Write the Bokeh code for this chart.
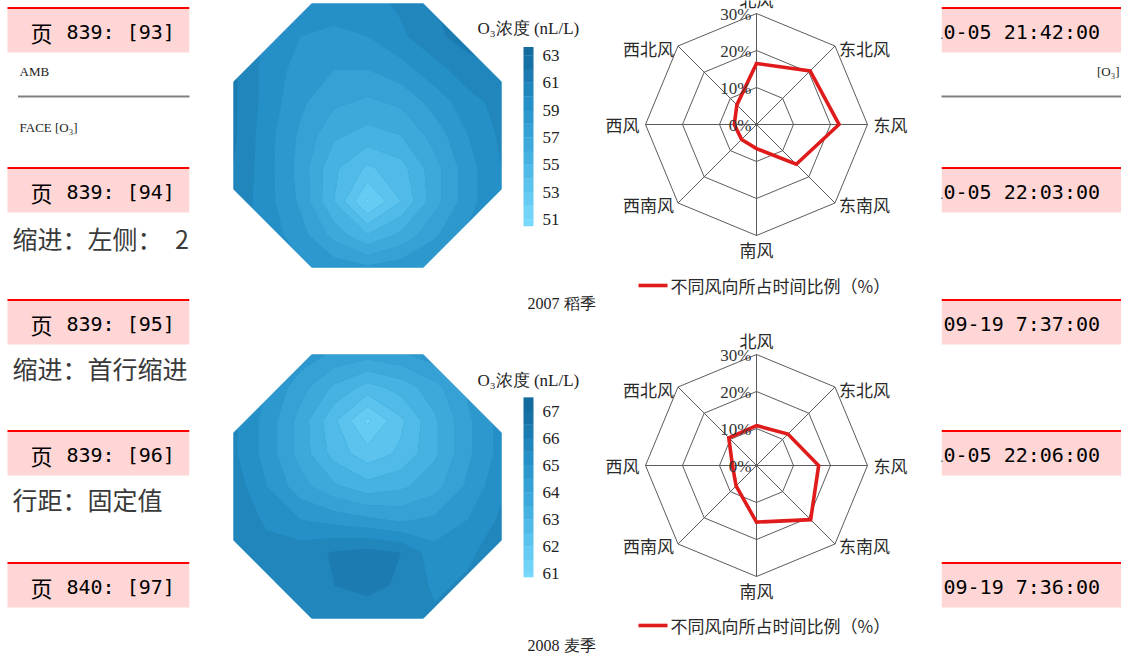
import numpy as np
from bokeh.plotting import figure
from bokeh.models import Range1d
from bokeh.core.properties import value
from bokeh.embed import file_html
from bokeh.resources import INLINE

# ---------------- data ----------------
header_ids = ["839:  [93]", "839:  [94]", "839:  [95]", "839:  [96]", "840:  [97]"]
header_times = ["2009-10-05 21:42:00", "2009-10-05 22:03:00", "2009-09-19 7:37:00",
                "2009-10-05 22:06:00", "2009-09-19 7:36:00"]
body_notes = ["缩进：左侧：　2 字符", "缩进：首行缩进：　2 字符", "行距：固定值"]
note_small = ["AMB", "FACE [O₃]"]
note_small_right = "[O₃]"

directions = ["北风", "东北风", "东风", "东南风", "南风", "西南风", "西风", "西北风"]
wind_share_2007 = [16.5, 20.5, 22.3, 15.2, 6.5, 5.7, 6.0, 7.5]
wind_share_2008 = [10.8, 12.0, 16.8, 20.7, 15.3, 7.8, 6.5, 10.6]
radar_ticks = [0, 10, 20, 30]
radar_tick_labels = ["0%", "10%", "20%", "30%"]
legend_label = "不同风向所占时间比例（%）"
captions = ["2007 稻季", "2008 麦季"]
cbar_title = "O₃浓度 (nL/L)"

# O3 concentration fields (rows top->bottom, cols left->right), nL/L
o3_2007 = [
    [60.8, 60.0, 59.6, 59.4, 59.6, 60.2, 61.0, 61.6, 62.0],
    [61.0, 59.8, 59.0, 58.8, 59.0, 59.8, 60.8, 61.4, 61.8],
    [61.2, 59.6, 58.6, 58.0, 58.0, 58.6, 59.6, 60.6, 61.0],
    [61.2, 59.6, 58.2, 57.2, 56.8, 57.2, 58.4, 59.6, 60.4],
    [61.2, 59.4, 57.8, 56.2, 55.6, 56.0, 57.4, 59.0, 60.2],
    [61.0, 59.4, 57.6, 55.2, 53.8, 54.6, 56.6, 58.6, 60.0],
    [60.8, 59.4, 57.8, 55.0, 51.8, 54.0, 56.6, 58.6, 60.0],
    [60.6, 59.6, 58.4, 56.6, 55.0, 56.2, 57.8, 59.2, 60.2],
    [60.4, 59.8, 59.2, 58.6, 58.2, 58.6, 59.2, 59.8, 60.4],
]
o3_2008 = [
    [65.6, 65.2, 64.8, 64.4, 64.2, 64.4, 64.8, 65.2, 65.6],
    [65.6, 65.0, 64.2, 63.4, 62.8, 63.2, 63.8, 64.6, 65.2],
    [65.6, 64.8, 63.8, 62.6, 61.4, 62.4, 63.4, 64.4, 65.2],
    [65.6, 64.8, 63.8, 62.8, 62.2, 62.6, 63.4, 64.4, 65.2],
    [65.8, 65.0, 64.2, 63.6, 63.2, 63.4, 63.8, 64.6, 65.4],
    [65.9, 65.4, 65.0, 64.8, 64.6, 64.4, 64.6, 65.0, 65.6],
    [65.9, 65.7, 65.8, 66.05, 66.2, 66.0, 65.2, 65.4, 65.8],
    [65.9, 65.7, 65.8, 66.0, 66.1, 65.95, 65.4, 65.6, 65.8],
    [65.8, 65.7, 65.7, 65.8, 65.8, 65.7, 65.6, 65.6, 65.8],
]
cbar_ticks_2007 = [51, 53, 55, 57, 59, 61, 63]
cbar_ticks_2008 = [61, 62, 63, 64, 65, 66, 67]

# ---------------- styles / layout ----------------
STOPS = [(0.0, (118, 216, 250)), (0.35, (72, 180, 228)), (0.7, (38, 145, 200)), (1.0, (20, 108, 158))]


def shade(t):
    t = min(max(t, 0.0), 1.0)
    for (t0, c0), (t1, c1) in zip(STOPS[:-1], STOPS[1:]):
        if t <= t1:
            f = (t - t0) / (t1 - t0)
            return "#%02x%02x%02x" % tuple(int(round(a + (b - a) * f)) for a, b in zip(c0, c1))
    return "#%02x%02x%02x" % STOPS[-1][1]


SERIF = value("Liberation Serif")
CJK = value("Noto Sans CJK SC")
MONO = value("DejaVu Sans Mono")
RED = "#e01b1b"
GRID = "#5c5c5c"

W, H = 1121, 662
p = figure(width=W, height=H, x_range=Range1d(0, W), y_range=Range1d(H, 0),
           output_backend="svg", toolbar_location=None, min_border=0,
           x_axis_location=None, y_axis_location=None)
p.grid.visible = False
p.outline_line_color = None
p.background_fill_color = "white"
p.border_fill_color = "white"

# ---------------- document background ----------------
band_tops = [7, 167, 299, 430, 562]
band_h = 45
for side in [(7, 189), (941, 1121)]:
    p.quad(left=[side[0]] * 5, right=[side[1]] * 5, top=band_tops,
           bottom=[t + band_h for t in band_tops], fill_color="#ffd6d6", line_color=None)
    p.segment(x0=[side[0]] * 5, x1=[side[1]] * 5, y0=[t + 0.5 for t in band_tops],
              y1=[t + 0.5 for t in band_tops], line_color="#ff0000", line_width=2)

text_y = [t + 24.5 for t in band_tops]
p.text(x=[30] * 5, y=text_y, text=["页"] * 5, text_font=CJK, text_font_size="22px",
       text_baseline="middle", text_color="black")
p.text(x=[66] * 5, y=text_y, text=header_ids, text_font=MONO, text_font_size="20px",
       text_baseline="middle", text_color="black")
p.text(x=[1099.5] * 5, y=text_y, text=header_times, text_font=MONO, text_font_size="20px",
       text_baseline="middle", text_align="right", text_color="black")

p.text(x=[12] * 3, y=[237, 367, 498], text=body_notes, text_font=CJK, text_font_size="25px",
       text_baseline="middle", text_color="#3a3a3a")
p.text(x=[19, 19], y=[71, 127], text=note_small, text_font=SERIF, text_font_size="13px",
       text_baseline="middle", text_color="#222222")
p.text(x=[1119], y=[71], text=[note_small_right], text_font=SERIF, text_font_size="13px",
       text_baseline="middle", text_align="right", text_color="#222222")
for seg in [(18, 189), (941, 1121)]:
    p.line(x=list(seg), y=[96, 96], line_color="#000000", line_width=2, line_dash="1 1")

# white figure area
p.quad(left=189, right=941, top=-5, bottom=670, fill_color="white", line_color=None)

# ---------------- panels ----------------
panels = [
    dict(field=o3_2007, share=wind_share_2007, levels=np.arange(50.0, 64.01, 1.0), vmin=51, vmax=63,
         ticks=cbar_ticks_2007, box=(233, 501, 3, 267), cbar_y=(55.0, 219.0), cbar_lim=(50.5, 63.6),
         title_y=28, radar_c=(756, 124), legend_y=285, caption_y=303, caption=captions[0]),
    dict(field=o3_2008, share=wind_share_2008, levels=np.arange(60.5, 67.51, 0.5), vmin=61, vmax=67,
         ticks=cbar_ticks_2008, box=(233, 501, 354, 618), cbar_y=(410.7, 573.3), cbar_lim=(60.87, 67.52),
         title_y=380, radar_c=(756, 465), legend_y=625, caption_y=645, caption=captions[1]),
]

angles = np.deg2rad(np.arange(8) * 45.0)
px_per_pct = 111.0 / 30.0

for pn in panels:
    x0, x1, y0, y1 = pn["box"]
    z = np.array(pn["field"], dtype=float)
    ny, nx = z.shape
    gx = np.linspace(x0, x1, nx)
    gy = np.linspace(y0, y1, ny)
    levels = pn["levels"]
    mids = (levels[:-1] + levels[1:]) / 2
    span = pn["vmax"] - pn["vmin"]
    colors = [shade((m - pn["vmin"]) / span) for m in mids]

    # base, contours, octagon mask
    p.quad(left=x0, right=x1, top=y0, bottom=y1,
           fill_color=shade((np.median(z) - pn["vmin"]) / span), line_color=None)
    p.contour(gx, gy, z, levels, fill_color=colors)
    cut = ((x1 - x0) + (y1 - y0)) / 2 / (2 + np.sqrt(2))
    e = 4
    tri_x = [[x0 - e, x0 + cut + e, x0 - e], [x1 - cut - e, x1 + e, x1 + e],
             [x0 - e, x0 - e, x0 + cut + e], [x1 + e, x1 + e, x1 - cut - e]]
    tri_y = [[y0 - e, y0 - e, y0 + cut + e], [y0 - e, y0 - e, y0 + cut + e],
             [y1 - cut - e, y1 + e, y1 + e], [y1 - cut - e, y1 + e, y1 + e]]
    p.patches(tri_x, tri_y, fill_color="white", line_color=None)

    # colour bar
    ytop, ybot = pn["cbar_y"]
    upx = (ybot - ytop) / (pn["ticks"][-1] - pn["ticks"][0])

    def ys(v, ytop=ytop, upx=upx, vtop=pn["ticks"][-1]):
        return ytop + (vtop - v) * upx

    lo_lim, hi_lim = pn["cbar_lim"]
    qt, qb, qc = [], [], []
    for lo, hi, c in zip(levels[:-1], levels[1:], colors):
        lo2, hi2 = max(lo, lo_lim), min(hi, hi_lim)
        if lo2 < hi2:
            qt.append(ys(hi2) - 0.3)
            qb.append(ys(lo2))
            qc.append(c)
    p.quad(left=523, right=533, top=qt, bottom=qb, fill_color=qc, line_color=None)
    p.text(x=[542] * len(pn["ticks"]), y=[ys(t) for t in pn["ticks"]],
           text=[str(t) for t in pn["ticks"]], text_font=SERIF, text_font_size="17px",
           text_baseline="middle", text_color="#222222")
    p.text(x=[477], y=[pn["title_y"]], text=[cbar_title], text_font=SERIF, text_font_size="17px",
           text_baseline="middle", text_color="#222222")

    # radar
    cx, cy = pn["radar_c"]
    sx, sy = np.sin(angles), -np.cos(angles)
    rmax = radar_ticks[-1] * px_per_pct
    p.multi_line([[cx, cx + rmax * a] for a in sx], [[cy, cy + rmax * b] for b in sy],
                 line_color=GRID, line_width=1)
    ring_xs, ring_ys = [], []
    for t in radar_ticks[1:]:
        r = t * px_per_pct
        ring_xs.append(list(cx + r * sx) + [cx + r * sx[0]])
        ring_ys.append(list(cy + r * sy) + [cy + r * sy[0]])
    p.multi_line(ring_xs, ring_ys, line_color=GRID, line_width=1)

    share = np.array(pn["share"]) * px_per_pct
    p.patch(list(cx + share * sx), list(cy + share * sy), fill_alpha=0, line_color=RED,
            line_width=3.6, line_join="miter")

    p.text(x=[cx - 5] * len(radar_ticks), y=[cy - t * px_per_pct + 1 for t in radar_ticks],
           text=radar_tick_labels, text_font=SERIF, text_font_size="17px",
           text_align="right", text_baseline="middle", text_color="#333333")

    lx, ly, la = [], [], []
    for k, name in enumerate(directions):
        vx, vy = cx + rmax * sx[k], cy + rmax * sy[k]
        if k == 0:
            lx.append(cx); ly.append(cy - 125); la.append("center")
        elif k == 4:
            lx.append(cx); ly.append(cy + 125); la.append("center")
        elif k == 2:
            lx.append(vx + 6); ly.append(cy); la.append("left")
        elif k == 6:
            lx.append(vx - 6); ly.append(cy); la.append("right")
        elif k in (1, 3):
            lx.append(vx + 4); ly.append(vy + 2); la.append("left")
        else:
            lx.append(vx - 4); ly.append(vy + 2); la.append("right")
    p.text(x=lx, y=ly, text=directions, text_align=la, text_font=CJK, text_font_size="17px",
           text_baseline="middle", text_color="#2a2a2a")

    # legend and caption
    p.line(x=[638, 667], y=[pn["legend_y"]] * 2, line_color=RED, line_width=3.6)
    p.text(x=[670], y=[pn["legend_y"]], text=[legend_label], text_font=CJK, text_font_size="17px",
           text_baseline="middle", text_color="#2a2a2a")
    p.text(x=[561], y=[pn["caption_y"]], text=[pn["caption"]], text_font=SERIF,
           text_font_size="16px", text_align="center", text_baseline="middle", text_color="#222222")

open("out.html", "w").write(file_html(p, INLINE))
